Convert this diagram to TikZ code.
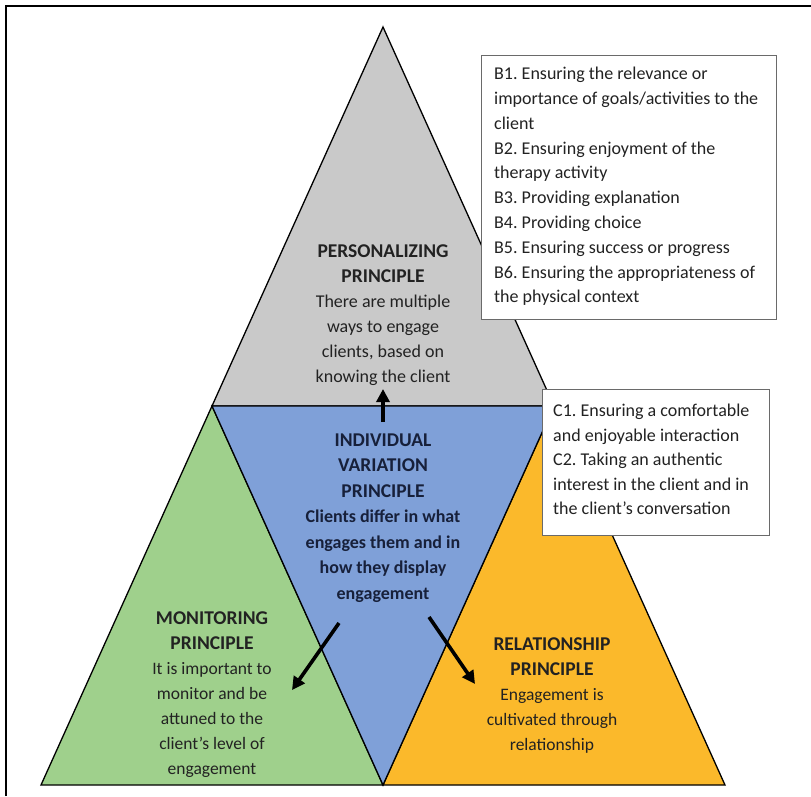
\documentclass[tikz,border=0pt]{standalone}
\usepackage{fontspec}
\setmainfont{Carlito}
\usetikzlibrary{arrows.meta,calc}
\frenchspacing

\definecolor{persgray}{HTML}{C9C9C9}
\definecolor{varblue}{HTML}{7FA0D8}
\definecolor{mongreen}{HTML}{9FD08C}
\definecolor{relorange}{HTML}{FBB92B}
\definecolor{navytext}{HTML}{17203A}
\definecolor{darktext}{HTML}{222222}
\definecolor{boxline}{HTML}{6A6A6A}

% heading lines inside the principle blocks
\newcommand{\headline}[1]{{\fontsize{19.5}{25}\selectfont\bfseries #1}}

\tikzset{
  part/.style={draw=black, line width=1.3pt, line join=miter},
  block/.style={align=center, inner sep=0pt, font=\fontsize{18}{25}\selectfont},
  listtext/.style={align=left, anchor=west, inner sep=0pt, text=darktext,
    font=\fontsize{18}{24.8}\selectfont},
  listbox/.style={draw=boxline, line width=1pt, fill=white, inner sep=0pt},
  bigarrow/.style={line width=3.6pt, -{Triangle[length=13pt,width=13pt]}},
}

\begin{document}
\begin{tikzpicture}[x=1pt,y=-1pt]
\useasboundingbox (0,0) rectangle (811,796);
\fill[white] (0,0) rectangle (811,796);

% outer frame (top and left edges)
\draw[line width=2.5pt] (6,796) -- (6,6) -- (811,6);

% corners of the large triangle and the midpoints of its sides
\coordinate (apex) at (383,27);
\coordinate (bl) at (41,785);
\coordinate (br) at (725,785);
\coordinate (ml) at ($(apex)!0.5!(bl)$);
\coordinate (mr) at ($(apex)!0.5!(br)$);
\coordinate (mb) at ($(bl)!0.5!(br)$);

% the four principles
\filldraw[part, fill=persgray]  (apex) -- (ml) -- (mr) -- cycle;
\filldraw[part, fill=mongreen]  (ml) -- (bl) -- (mb) -- cycle;
\filldraw[part, fill=relorange] (mr) -- (mb) -- (br) -- cycle;
\filldraw[part, fill=varblue]   (ml) -- (mr) -- (mb) -- cycle;

% principle texts
\node[block, text=darktext] (pers) at (383,315.5)
  {\headline{PERSONALIZING}\\\headline{PRINCIPLE}\\There are multiple\\ways to engage\\clients, based on\\knowing the client};

\node[block, text=navytext, font=\fontsize{18}{25.5}\selectfont\bfseries] (ivp) at (383,518)
  {\headline{INDIVIDUAL}\\\headline{VARIATION}\\\headline{PRINCIPLE}\\Clients differ in what\\engages them and in\\how they display\\engagement};

\node[block, text=darktext, font=\fontsize{17.5}{25}\selectfont] (mon) at (212,695)
  {\headline{MONITORING}\\\headline{PRINCIPLE}\\It is important to\\monitor and be\\attuned to the\\client\char39 s level of\\engagement};

\node[block, text=darktext, font=\fontsize{17.5}{25}\selectfont] (rel) at (552,696)
  {\headline{RELATIONSHIP}\\\headline{PRINCIPLE}\\Engagement is\\cultivated through\\relationship};

% arrows from the central principle
\coordinate (upfrom) at (383,422);
\coordinate (upto) at (383,389);
\coordinate (leftfrom) at (339,623);
\coordinate (leftto) at (292,690);
\coordinate (rightfrom) at (429,617);
\coordinate (rightto) at (475,684);
\draw[bigarrow] (upfrom) -- (upto);
\draw[bigarrow] (leftfrom) -- (leftto);
\draw[bigarrow] (rightfrom) -- (rightto);

% strategy lists
\node[listbox, minimum width=295pt, minimum height=264pt] (bbox) at (628.5,187) {};
\node[listtext] (btext) at (494,186.5)
  {B1. Ensuring the relevance or\\importance of goals/activities to the\\client\\B2. Ensuring enjoyment of the\\therapy activity\\B3. Providing explanation\\B4. Providing choice\\B5. Ensuring success or progress\\B6. Ensuring the appropriateness of\\the physical context};

\node[listbox, minimum width=227pt, minimum height=146pt] (cbox) at (655.5,462) {};
\node[listtext, font=\fontsize{18}{24.4}\selectfont] (ctext) at (553,459.5)
  {C1. Ensuring a comfortable\\and enjoyable interaction\\C2. Taking an authentic\\interest in the client and in\\the client’s conversation};
\end{tikzpicture}
\end{document}
